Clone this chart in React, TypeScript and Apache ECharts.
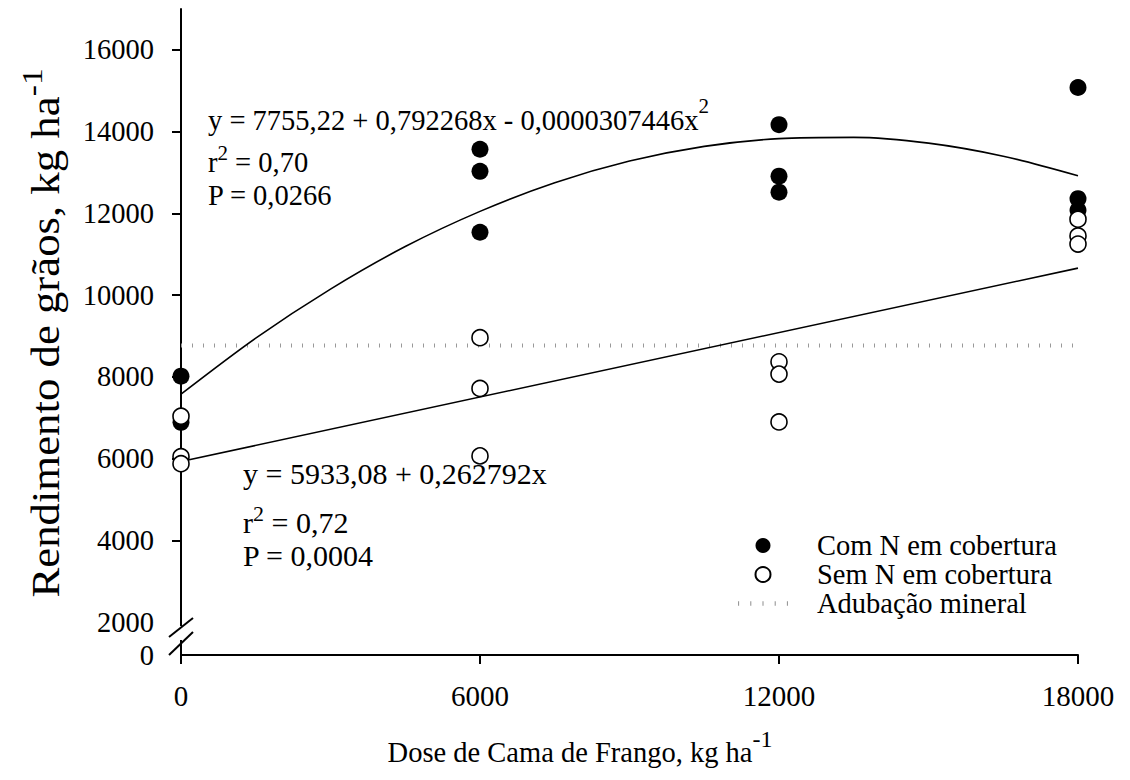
import { useEffect, useRef } from 'react';
import * as echarts from 'echarts';

// ---- data ----
const xTickValues = [0, 6000, 12000, 18000];
const yTickLabelValues = [0, 2000, 4000, 6000, 8000, 10000, 12000, 14000, 16000];
const yTickMarkValues = [4000, 6000, 8000, 10000, 12000, 14000, 16000];

const comNX = [0, 0, 6000, 6000, 6000, 12000, 12000, 12000, 18000, 18000, 18000];
const comNY = [8020, 6890, 13570, 13030, 11540, 14170, 12910, 12520, 15080, 12360, 12080];

const semNX = [0, 0, 0, 6000, 6000, 6000, 12000, 12000, 12000, 18000, 18000, 18000];
const semNY = [7040, 6050, 5880, 8960, 7720, 6070, 8370, 8070, 6900, 11860, 11450, 11250];

// fitted curve as drawn in the picture
const quadCurveX = [0, 1500, 3000, 4500, 6000, 7500, 9000, 10500, 12000, 13500, 15000, 16500, 18000];
const quadCurveY = [7580, 8950, 10150, 11190, 12050, 12750, 13280, 13640, 13830, 13860, 13720, 13400, 12920];

const linearX = [0, 18000];
const linearY = [5933, 10663];

const mineralX = [0, 18000];
const mineralY = [8770, 8770];

const seriesNames = ['Com N em cobertura', 'Sem N em cobertura', 'Adubação mineral'];

// the y axis is broken between 0 and 2000: value 0 is drawn at this axis position
const Y_ZERO_POS = 1200;
const Y_MAX = 17000;

const FONT = '"Liberation Serif", "Times New Roman", serif';

const pairs = (xs: number[], ys: number[]) => xs.map((x, i) => [x, ys[i]]);
const toAxis = (v: number) => (v === 0 ? Y_ZERO_POS : v);

const mkRich = (size: number, supSize: number, lineH: number, supH: number) => ({
  n: { fontSize: size, fontFamily: FONT, color: '#000', lineHeight: lineH },
  s: { fontSize: supSize, fontFamily: FONT, color: '#000', lineHeight: supH, verticalAlign: 'top' },
});

export default function App() {
  const ref = useRef<HTMLDivElement>(null);

  useEffect(() => {
    if (!ref.current) return;
    const chart = echarts.init(ref.current, undefined, { renderer: 'svg' });

    const richEqUp = mkRich(28.5, 21, 50, 12);
    const richRUp = mkRich(28.5, 21, 40, 20);
    const richRLow = mkRich(30, 22, 40, 20);
    const richXTitle = mkRich(28.5, 24, 50, 14);
    const richYTitle = mkRich(40, 30, 56, 26);

    const txt = (x: number, y: number, text: string, rich: any, extra: any = {}) => {
      const { align, ...rest } = extra;
      return {
        type: 'text',
        x,
        y,
        z: 50,
        ...rest,
        style: { text, rich, align: align || 'left', verticalAlign: 'middle' },
      };
    };

    const option: any = {
      animation: false,
      backgroundColor: '#fff',
      grid: { left: 181, right: 52, top: 9, bottom: 125, containLabel: false },
      xAxis: {
        type: 'value',
        min: 0,
        max: 18000,
        interval: 6000,
        axisLine: { show: true, onZero: false, lineStyle: { color: '#000', width: 2 } },
        axisTick: { show: true, length: 9, customValues: xTickValues, lineStyle: { color: '#000', width: 2 } },
        axisLabel: {
          color: '#000',
          fontSize: 29,
          fontFamily: FONT,
          margin: 26,
          customValues: xTickValues,
          formatter: (v: number) => String(v),
        },
        splitLine: { show: false },
      },
      yAxis: {
        type: 'value',
        min: Y_ZERO_POS,
        max: Y_MAX,
        axisLine: { show: true, onZero: false, lineStyle: { color: '#000', width: 2 } },
        axisTick: {
          show: true,
          length: 9,
          customValues: yTickMarkValues,
          lineStyle: { color: '#000', width: 2 },
        },
        axisLabel: {
          color: '#000',
          fontSize: 28.5,
          fontFamily: FONT,
          margin: 27,
          customValues: yTickLabelValues.map(toAxis),
          formatter: (v: number) => (v === Y_ZERO_POS ? '0' : String(v)),
        },
        splitLine: { show: false },
      },
      legend: {
        orient: 'vertical',
        left: 733,
        top: 526,
        itemWidth: 50,
        itemHeight: 15,
        itemGap: 0,
        selectedMode: false,
        textStyle: { fontSize: 28.5, fontFamily: FONT, color: '#000', lineHeight: 28, padding: [0, 0, 0, 24] },
        data: [
          { name: seriesNames[0], icon: 'circle' },
          { name: seriesNames[1], icon: 'circle' },
          {
            name: seriesNames[2],
            icon: 'path://M0 0h1v4h-1z M11 0h1v4h-1z M22 0h1v4h-1z M33 0h1v4h-1z M44 0h1v4h-1z',
            itemStyle: { color: '#999' },
          },
        ],
      },
      series: [
        {
          name: seriesNames[2],
          type: 'line',
          data: pairs(mineralX, mineralY),
          symbol: 'none',
          color: '#999',
          lineStyle: { color: '#999', width: 4, type: [1, 10] },
          silent: true,
          z: 1,
        },
        {
          name: 'quad-fit',
          type: 'line',
          data: pairs(quadCurveX, quadCurveY),
          symbol: 'none',
          smooth: 0.3,
          lineStyle: { color: '#000', width: 1.6 },
          silent: true,
          z: 2,
        },
        {
          name: 'linear-fit',
          type: 'line',
          data: pairs(linearX, linearY),
          symbol: 'none',
          lineStyle: { color: '#000', width: 1.6 },
          silent: true,
          z: 2,
        },
        {
          name: seriesNames[0],
          type: 'scatter',
          data: pairs(comNX, comNY),
          symbol: 'circle',
          symbolSize: 17,
          itemStyle: { color: '#000', opacity: 1 },
          z: 3,
        },
        {
          name: seriesNames[1],
          type: 'scatter',
          data: pairs(semNX, semNY),
          symbol: 'circle',
          symbolSize: 16,
          itemStyle: { color: '#fff', borderColor: '#000', borderWidth: 1.6, opacity: 1 },
          z: 4,
        },
      ],
      graphic: [
        // axis break
        { type: 'rect', z: 100, shape: { x: 175, y: 626, width: 12, height: 14 }, style: { fill: '#fff' } },
        { type: 'line', z: 101, shape: { x1: 169, y1: 637, x2: 193, y2: 618 }, style: { stroke: '#000', lineWidth: 2 } },
        { type: 'line', z: 101, shape: { x1: 169, y1: 655, x2: 193, y2: 632 }, style: { stroke: '#000', lineWidth: 2 } },
        // equations
        txt(208, 120, '{n|y = 7755,22 + 0,792268x - 0,0000307446x}{s|2}', richEqUp),
        txt(208, 162, '{n|r}{s|2}{n| = 0,70}', richRUp),
        txt(208, 195, '{n|P = 0,0266}', richRUp),
        txt(243, 473, '{n|y = 5933,08 + 0,262792x}', richRLow),
        txt(243, 522, '{n|r}{s|2}{n| = 0,72}', richRLow),
        txt(243, 555, '{n|P = 0,0004}', richRLow),
        // axis titles
        txt(580, 752, '{n|Dose de Cama de Frango, kg ha}{s|-1}', richXTitle, { align: 'center' }),
        txt(45, 333, '{n|Rendimento de grãos, kg ha}{s|-1}', richYTitle, {
          align: 'center',
          rotation: Math.PI / 2,
          scaleX: 1.12,
        }),
      ],
    };

    chart.setOption(option);
    return () => chart.dispose();
  }, []);

  return (
    <div
      ref={ref}
      style={{ position: 'fixed', left: 0, top: 0, width: 1130, height: 780, background: '#fff' }}
    />
  );
}
